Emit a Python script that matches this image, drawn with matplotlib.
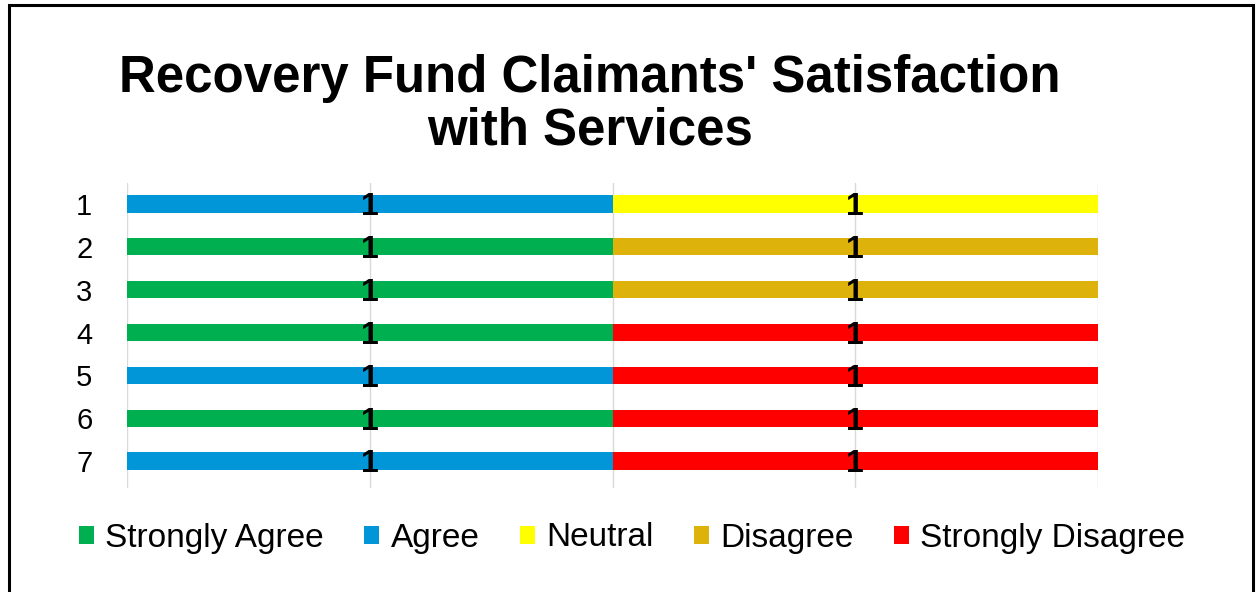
import matplotlib
matplotlib.use("Agg")
import matplotlib.pyplot as plt
from matplotlib.patches import Patch, Rectangle

plt.rcParams['font.family'] = ['Liberation Sans', 'DejaVu Sans']

rows = ['1', '2', '3', '4', '5', '6', '7']
categories = ['Strongly Agree', 'Agree', 'Neutral', 'Disagree', 'Strongly Disagree']
cat_colors = ['#00B050', '#0096D8', '#FFFF00', '#DDB20A', '#FF0000']
left_response = ['Agree', 'Strongly Agree', 'Strongly Agree', 'Strongly Agree',
                 'Agree', 'Strongly Agree', 'Agree']
right_response = ['Neutral', 'Disagree', 'Disagree', 'Strongly Disagree',
                  'Strongly Disagree', 'Strongly Disagree', 'Strongly Disagree']
left_values = [1, 1, 1, 1, 1, 1, 1]
right_values = [1, 1, 1, 1, 1, 1, 1]

color_of = dict(zip(categories, cat_colors))

fig = plt.figure(figsize=(12.57, 5.92), dpi=100)
ax = fig.add_axes([127/1257, 1-488/592, (1098-127)/1257, (488-183)/592])

ypos = list(range(len(rows)))
c1 = ax.barh(ypos, left_values, height=0.4,
             color=[color_of[c] for c in left_response], zorder=2)
c2 = ax.barh(ypos, right_values, left=left_values, height=0.4,
             color=[color_of[c] for c in right_response], zorder=2)
for c in (c1, c2):
    labels = ax.bar_label(c, label_type='center', fontsize=23, fontweight='bold',
                          color='black', zorder=3)
    for t in labels:
        t.xyann = (0, -2.5)

ax.set_ylim(6.63, -0.49)
ax.set_xlim(0, 2)
ax.set_yticks(ypos)
ax.set_yticklabels(rows, fontsize=21)
ax.set_xticks([0, 0.5, 1, 1.5, 2])
ax.set_xticklabels([])
ax.tick_params(axis='both', length=0)
ax.tick_params(axis='y', pad=25)
ax.grid(axis='x', color='#D9D9D9', linewidth=1, zorder=0)
ax.set_axisbelow(True)
for s in ax.spines.values():
    s.set_visible(False)

handles = [Patch(facecolor=col, edgecolor='none') for col in cat_colors]
fig.legend(handles, categories, loc='center', bbox_to_anchor=(632/1257, 1-538/592),
           ncol=5, frameon=False, fontsize=24, handlelength=0.45, handleheight=0.45,
           handletextpad=0.35, columnspacing=1.2)

fig.text(590/1257, 1-105/592, "Recovery Fund Claimants' Satisfaction\nwith Services",
         ha='center', va='center', fontsize=36.7, fontweight='bold', linespacing=1.1)

fig.patches.append(Rectangle((9/1257, -0.02), (1253-9)/1257, 1-5/592+0.02,
                             transform=fig.transFigure, fill=False,
                             edgecolor='black', linewidth=2.2))

fig.savefig('out.png', dpi=100)
